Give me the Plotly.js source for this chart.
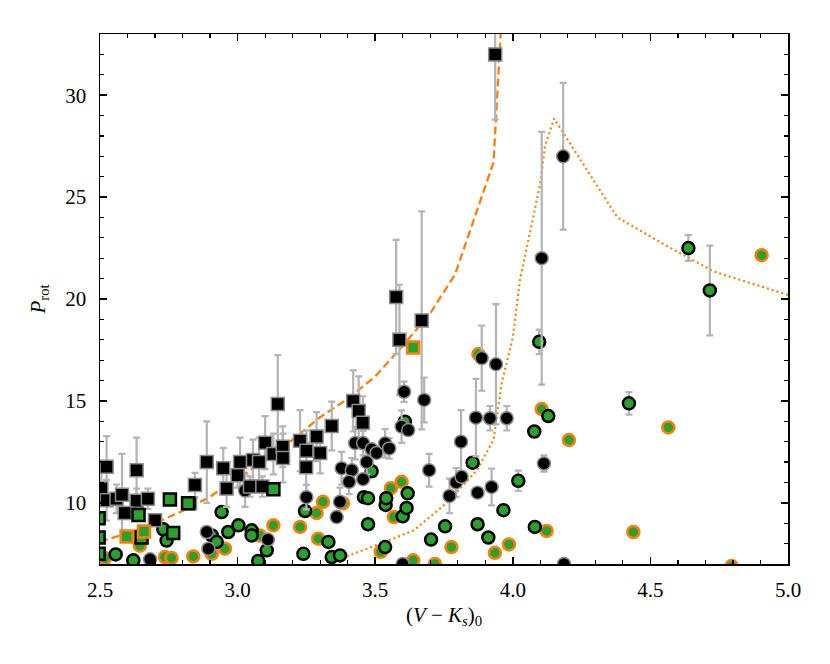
<!DOCTYPE html>
<html>
<head>
<meta charset="utf-8">
<script src="https://cdn.plot.ly/plotly-3.0.1.min.js"></script>
<style>
  body { margin: 0; background: #fff; }
  #chart { width: 830px; height: 664px; }
</style>
</head>
<body>
<div id="chart"></div>
<script>
// black squares (grey edge), with error bars
var sqX = [2.524, 2.505, 2.524, 2.56, 2.58, 2.633, 2.633, 2.674, 2.59, 2.70, 2.827, 2.845, 2.888, 2.948, 2.96,
           3.009, 3.0, 3.056, 3.045, 3.078, 3.09, 3.10, 3.13, 3.146, 3.164, 3.165, 3.227, 3.249, 3.25, 3.287,
           3.30, 3.342, 3.42, 3.44, 3.455, 3.576, 3.588, 3.669, 3.936];
var sqY = [11.77, 10.7, 10.13, 10.2, 10.4, 11.6, 10.1, 10.2, 9.5, 9.15, 9.98, 10.87, 12.0, 11.7, 10.7,
           12.0, 11.35, 12.1, 10.8, 12.0, 10.8, 12.95, 12.4, 14.85, 12.75, 12.2, 13.05, 11.75, 12.55, 13.25,
           12.45, 13.77, 15.0, 14.5, 13.93, 20.1, 18.0, 18.95, 32.0];
var sqErr = [1.5, 0.8, 1.0, 0.7, 2.0, 1.6, 0.6, 0.5, 0, 0, 0, 0.6, 2.0, 1.0, 0.9,
             1.2, 0.6, 1.0, 0.5, 1.2, 0.5, 1.3, 1.0, 2.4, 1.0, 1.2, 1.5, 1.2, 1.0, 1.2,
             1.0, 1.2, 1.5, 1.7, 1.3, 2.8, 2.7, 5.35, 3.2];

// black circles (grey edge)
var bcX = [2.682, 2.888, 2.894, 3.027, 3.11, 3.25, 3.36, 3.372, 3.378, 3.415, 3.405, 3.427, 3.456, 3.456,
           3.469, 3.487, 3.505, 3.536, 3.551, 3.605, 3.596, 3.62, 3.678, 3.696, 3.77, 3.794, 3.814, 3.812,
           3.866, 3.872, 3.887, 3.917, 3.923, 3.939, 3.978, 4.105, 4.113, 4.183, 3.60, 4.186];
var bcY = [7.23, 8.57, 7.75, 10.6, 8.2, 10.28, 9.3, 10.05, 11.7, 11.6, 11.03, 12.93, 12.93, 11.16,
           12.0, 12.63, 12.45, 12.92, 12.67, 15.45, 13.74, 13.57, 15.05, 11.6, 10.34, 11.0, 11.28, 13.0,
           14.18, 10.5, 17.1, 14.15, 10.78, 16.8, 14.15, 22.0, 11.93, 27.0, 7.0, 7.0];
var bcErr = [0, 0, 0, 0.8, 0, 0.6, 0, 0.7, 0.8, 0.6, 0.6, 0.8, 0.6, 0,
             0.6, 0, 0, 0.7, 0.5, 0.5, 0.8, 0, 1.1, 0.8, 0.85, 0.7, 0, 1.55,
             1.9, 0, 1.6, 0.6, 0.9, 2.95, 0.6, 6.2, 0.4, 3.6, 0, 0];

// green circles, black edge
var gcX = [2.557, 2.621, 2.73, 2.742, 2.906, 2.924, 2.942, 2.966, 3.003, 3.051, 3.051, 3.075, 3.106, 3.239,
           3.245, 3.33, 3.342, 3.372, 3.459, 3.474, 3.474, 3.487, 3.538, 3.54, 3.536, 3.60, 3.608, 3.614,
           3.618, 3.703, 3.754, 3.854, 3.872, 3.911, 3.966, 4.02, 4.078, 4.08, 4.096, 4.129, 4.422, 4.638, 4.716];
var gcY = [7.47, 7.18, 8.7, 8.15, 8.4, 8.08, 9.55, 8.57, 8.9, 8.65, 8.4, 7.15, 7.67, 7.5,
           9.6, 8.08, 7.34, 7.42, 10.28, 10.23, 8.95, 11.55, 9.9, 10.23, 7.83, 9.34, 13.98, 9.75,
           10.47, 8.2, 8.85, 11.97, 8.95, 8.3, 9.64, 11.08, 13.5, 8.82, 17.9, 14.26, 14.88, 22.5, 20.42];
var gcErr = [0, 0, 0, 0, 0, 0, 0, 0, 0, 0, 0, 0, 0, 0,
             0, 0, 0, 0, 0, 0, 0, 0, 0, 0, 0, 0, 0, 0,
             0, 0, 0, 0, 0, 0, 0, 0.5, 0, 0, 0.6, 0, 0.55, 0.63, 2.2];

// green circles, orange edge
var goX = [2.518, 2.645, 2.736, 2.76, 2.839, 2.906, 2.954, 3.08, 3.13, 3.227, 3.287, 3.293, 3.31, 3.383,
           3.52, 3.557, 3.568, 3.596, 3.638, 3.717, 3.777, 3.875, 3.935, 3.986, 4.105, 4.123, 4.204,
           4.438, 4.565, 4.795, 4.904];
var goY = [7.28, 7.9, 7.34, 7.3, 7.37, 7.5, 7.75, 8.4, 8.9, 8.82, 9.5, 8.24, 10.05, 9.98,
           7.6, 10.72, 9.3, 11.03, 7.18, 7.0, 7.83, 17.3, 7.55, 7.96, 14.6, 8.62, 13.08,
           8.57, 13.7, 6.9, 22.15];

// green squares, black edge
var gsX = [2.495, 2.495, 2.495, 2.64, 2.651, 2.754, 2.766, 2.82, 3.13];
var gsY = [9.25, 8.3, 7.5, 9.4, 8.3, 10.17, 8.52, 9.98, 10.67];

// green squares, orange edge
var osX = [2.597, 2.66, 3.638];
var osY = [8.35, 8.6, 17.62];

// dashed and dotted reference curves
var dashX = [2.5, 2.6, 2.7, 2.8, 2.9, 3.0, 3.1, 3.2, 3.3, 3.4, 3.5, 3.6, 3.7, 3.79, 3.93, 3.96, 3.98];
var dashY = [8.1, 8.5, 9.0, 9.6, 10.3, 11.2, 12.1, 13.1, 14.2, 15.1, 16.2, 17.7, 19.3, 21.2, 26.7, 34, 40];
var dotX = [3.25, 3.40, 3.52, 3.64, 3.76, 3.87, 3.93, 3.96, 4.0, 4.026, 4.06, 4.10, 4.117, 4.15, 4.38, 4.56, 4.73, 5.0];
var dotY = [6.4, 7.4, 8.0, 8.65, 10.0, 11.6, 13.1, 15.9, 18.1, 20.95, 23.1, 25.7, 27.5, 28.85, 24.0, 22.6, 21.35, 20.2];

var green = "#2ca02c", orange = "#ff7f0e", errGrey = "#b4b4b4", edgeGrey = "#8c8c8c";

function fill(n, v) { return Array(n).fill(v); }

function errBars(arr) {
  return {type: "data", array: arr, visible: true, color: errGrey, thickness: 2.2, width: 3.5};
}

var gCircX = goX.concat(gcX), gCircY = goY.concat(gcY);
var gCircErr = fill(goX.length, 0).concat(gcErr);
var gCircEdge = fill(goX.length, orange).concat(fill(gcX.length, "black"));

var blkX = bcX.concat(sqX), blkY = bcY.concat(sqY), blkErr = bcErr.concat(sqErr);
var blkSym = fill(bcX.length, "circle").concat(fill(sqX.length, "square"));

var gSqX = gsX.concat(osX), gSqY = gsY.concat(osY);
var gSqEdge = fill(gsX.length, "black").concat(fill(osX.length, orange));

var data = [
  {x: dashX, y: dashY, mode: "lines", type: "scatter",
   line: {color: orange, width: 2.3, dash: "8px,4px"}},
  {x: dotX, y: dotY, mode: "lines", type: "scatter",
   line: {color: orange, width: 2.2, dash: "2px,3px"}},
  {x: gCircX, y: gCircY, mode: "markers", type: "scatter", error_y: errBars(gCircErr),
   marker: {symbol: "circle", size: 12, color: green, line: {color: gCircEdge, width: 2.5}}},
  {x: blkX, y: blkY, mode: "markers", type: "scatter", error_y: errBars(blkErr),
   marker: {symbol: blkSym, size: 13, color: "black", line: {color: edgeGrey, width: 1.5}}},
  {x: gSqX, y: gSqY, mode: "markers", type: "scatter",
   marker: {symbol: "square", size: 12, color: green, line: {color: gSqEdge, width: 2.5}}},
  // empty trace so the overlay tick axes get drawn
  {x: [], y: [], type: "scatter", mode: "markers", xaxis: "x2", yaxis: "y2", hoverinfo: "skip"}
];

var axisFont = {family: "Liberation Serif, DejaVu Serif, serif", size: 21, color: "black"};

var xTicks = {
  range: [2.5, 5.0], dtick: 0.5, tick0: 2.5,
  ticks: "inside", ticklen: 7, tickwidth: 1.5, tickcolor: "black",
  minor: {ticks: "inside", dtick: 0.1, ticklen: 4, tickwidth: 1.2, tickcolor: "black", showgrid: false},
  showgrid: false, zeroline: false, layer: "above traces"
};
var yTicks = {
  range: [7, 33], dtick: 5, tick0: 0,
  ticks: "inside", ticklen: 7, tickwidth: 1.5, tickcolor: "black",
  minor: {ticks: "inside", dtick: 1, ticklen: 4, tickwidth: 1.2, tickcolor: "black", showgrid: false},
  showgrid: false, zeroline: false, layer: "above traces"
};

var layout = {
  width: 830, height: 664,
  margin: {l: 100, r: 42, t: 34, b: 100},
  showlegend: false,
  font: axisFont,
  xaxis: Object.assign({}, xTicks, {
    tickformat: ".1f", showline: true, linecolor: "black", linewidth: 1.5, mirror: "allticks",
    ticklabelstandoff: 6,
    title: {text: "(<i>V</i> − <i>K<sub>s</sub></i>)<sub>0</sub>", font: axisFont, standoff: 6}
  }),
  yaxis: Object.assign({}, yTicks, {
    showline: true, linecolor: "black", linewidth: 1.5, mirror: "allticks",
    ticklabelstandoff: 8,
    title: {text: "<i>P</i><sub>rot</sub>", font: axisFont, standoff: 14}
  }),
  xaxis2: Object.assign({}, xTicks, {
    overlaying: "x", side: "top", mirror: "allticks", showticklabels: false, showline: false
  }),
  yaxis2: Object.assign({}, yTicks, {
    overlaying: "y", side: "right", mirror: "allticks", showticklabels: false, showline: false
  })
};

Plotly.newPlot("chart", data, layout, {displayModeBar: false, staticPlot: true});
</script>
</body>
</html>
